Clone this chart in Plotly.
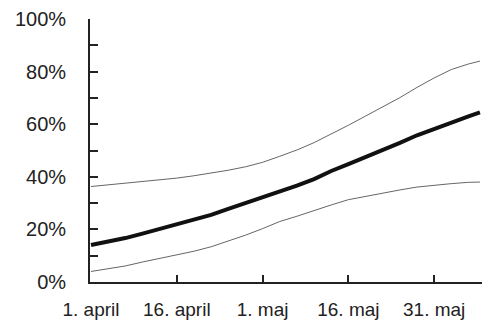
import pandas as pd
import plotly.graph_objects as go

# Day offsets from 1 April and the three share curves (fractions)
start = pd.Timestamp("2020-04-01")
days = [0, 3, 6, 9, 12, 15, 18, 21, 24, 27, 30, 33, 36, 39, 42, 45, 48, 51, 54, 57, 60, 63, 66, 68]

central = [0.141, 0.154, 0.167, 0.184, 0.202, 0.219, 0.236, 0.255, 0.278, 0.300, 0.321, 0.342,
           0.366, 0.391, 0.422, 0.448, 0.474, 0.501, 0.529, 0.558, 0.583, 0.606, 0.630, 0.645]
upper = [0.363, 0.369, 0.376, 0.382, 0.389, 0.395, 0.404, 0.414, 0.425, 0.438, 0.455, 0.478,
         0.502, 0.530, 0.562, 0.596, 0.631, 0.666, 0.701, 0.740, 0.776, 0.808, 0.829, 0.840]
lower = [0.040, 0.050, 0.061, 0.076, 0.090, 0.103, 0.117, 0.134, 0.155, 0.178, 0.203, 0.230,
         0.250, 0.273, 0.293, 0.313, 0.326, 0.338, 0.350, 0.361, 0.368, 0.374, 0.379, 0.380]

tick_days = [0, 15, 30, 45, 60]
tick_text = ["1. april", "16. april", "1. maj", "16. maj", "31. maj"]

dates = [start + pd.Timedelta(days=d) for d in days]
tick_dates = [start + pd.Timedelta(days=d) for d in tick_days]

fig = go.Figure()
for series, width, color in [(upper, 1, "#666666"), (lower, 1, "#666666"), (central, 4, "#111111")]:
    fig.add_trace(go.Scatter(x=dates, y=series, mode="lines",
                             line=dict(color=color, width=width), showlegend=False))

font = dict(family="Liberation Sans, Arial, sans-serif", size=19, color="#222222")
yfont = dict(family="Liberation Sans, Arial, sans-serif", size=20, color="#222222")

fig.update_layout(
    width=482, height=320,
    margin=dict(l=90, r=0, t=19, b=36),
    paper_bgcolor="white", plot_bgcolor="white",
    font=font,
)
fig.update_xaxes(
    range=[start - pd.Timedelta(hours=4.2), start + pd.Timedelta(days=68.36)],
    tickvals=tick_dates, ticktext=tick_text,
    ticks="inside", ticklen=7, tickwidth=1.5, tickcolor="#222222",
    showline=True, linecolor="#222222", linewidth=1.8,
    showgrid=False, zeroline=False,
    ticklabelstandoff=9, tickfont=font,
)
fig.update_yaxes(
    range=[0, 1], dtick=0.2, tickformat=".0%",
    ticks="inside", ticklen=8, tickwidth=1.5, tickcolor="#222222",
    minor=dict(dtick=0.1, ticks="inside", ticklen=8, tickwidth=1.5, tickcolor="#222222", showgrid=False),
    showline=True, linecolor="#222222", linewidth=1.8,
    showgrid=False, zeroline=False,
    ticklabelstandoff=18, tickfont=yfont,
)

fig.write_html("out.html")
